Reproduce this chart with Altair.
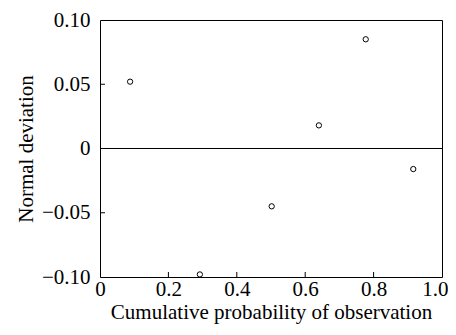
import altair as alt
import pandas as pd

prob = [0.088, 0.292, 0.502, 0.640, 0.777, 0.916]
dev = [0.052, -0.098, -0.045, 0.018, 0.085, -0.016]
x_ticks = [0.2, 0.4, 0.6, 0.8]
y_ticks = [0.05, -0.05]

W, H = 342, 257
FONT = "Liberation Serif"

df = pd.DataFrame({"p": prob, "d": dev})
xs = alt.Scale(domain=[0, 1], nice=False)
ys = alt.Scale(domain=[-0.1, 0.1], nice=False)

base = alt.Chart(df).mark_point(shape="circle", size=28, color="black", strokeWidth=1, filled=False, opacity=1).encode(
    x=alt.X("p:Q", scale=xs, title="Cumulative probability of observation",
            axis=alt.Axis(values=[0, 0.2, 0.4, 0.6, 0.8, 1.0], ticks=False, domain=False, grid=False,
                          labelFlush=False, labelOverlap=False,
                          labelAlign={"expr": "datum.value == 1 ? 'right' : 'center'"},
                          labelOffset={"expr": "datum.value == 1 ? 6 : 0"},
                          labelExpr="datum.value == 0 ? '0' : format(datum.value, '.1f')",
                          labelPadding=1, titlePadding=2)),
    y=alt.Y("d:Q", scale=ys, title="Normal deviation",
            axis=alt.Axis(values=[-0.1, -0.05, 0, 0.05, 0.1], ticks=False, domain=False, grid=False,
                          labelFlush=False, labelOverlap=False,
                          labelExpr="datum.value == 0 ? '0' : (datum.value < 0 ? '\u2212' + format(-datum.value, '.2f') : format(datum.value, '.2f'))",
                          labelPadding=10, titlePadding=5)),
)

zero = alt.Chart(pd.DataFrame({"z": [0]})).mark_rule(color="black", strokeWidth=1).encode(
    y=alt.Y("z:Q", scale=ys))

xt = alt.Chart(pd.DataFrame({"t": x_ticks})).mark_rule(color="black", strokeWidth=1).encode(
    x=alt.X("t:Q", scale=xs), y=alt.value(H), y2=alt.value(H - 5))

yt = alt.Chart(pd.DataFrame({"t": y_ticks})).mark_rule(color="black", strokeWidth=1).encode(
    y=alt.Y("t:Q", scale=ys), x=alt.value(0), x2=alt.value(5))

chart = alt.layer(zero, xt, yt, base).properties(
    width=W, height=H,
    background="white",
    autosize=alt.AutoSizeParams(type="none"),
    padding={"left": 92, "top": 12, "right": 6, "bottom": 50},
).configure_view(stroke="black", strokeWidth=1).configure_axis(
    labelFont=FONT, titleFont=FONT, labelFontSize=21, titleFontSize=21,
    labelColor="black", titleColor="black", titleFontWeight="normal",
)

chart.save("out.html", embed_options={"renderer": "svg", "actions": False})
